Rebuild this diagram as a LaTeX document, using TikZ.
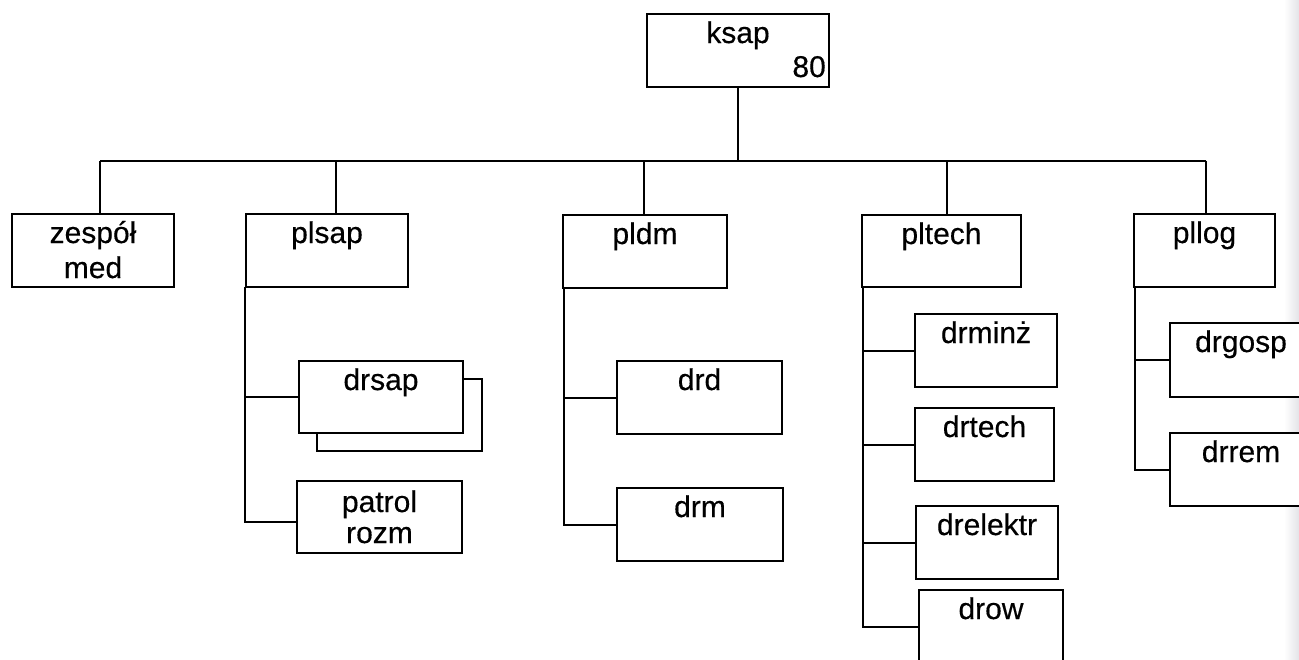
\documentclass[tikz,border=0pt]{standalone}
\usepackage{fontspec}
\setmainfont[FakeBold=0.4]{Liberation Sans}
\begin{document}
\begin{tikzpicture}[x=1pt,y=-1pt,
  box/.style={draw=black, line width=2pt, rectangle, inner sep=0pt, outer sep=0pt, anchor=north west, fill=white},
  lbl/.style={anchor=base, inner sep=0pt, align=center, text=black, font=\fontsize{30}{35}\selectfont},
  conn/.style={draw=black, line width=2pt}]
\useasboundingbox (0,0) rectangle (1299,659);
\fill[white] (0,0) rectangle (1299,659);
\shade[left color=white, right color=blue!8!gray!20] (1284,0) rectangle (1299,659);

% top
\node[box, minimum width=182pt, minimum height=73pt] (ksap) at (647,14) {};
\node[lbl] at ([yshift=-29pt]ksap.north) {ksap};
\node[lbl, anchor=base east] at ([xshift=-3pt,yshift=-63pt]ksap.north east) {80};

% level 1
\node[box, minimum width=162pt, minimum height=73pt] (zesp) at (12,214) {};
\node[lbl, font=\fontsize{30}{35}\selectfont] at ([yshift=-64pt]zesp.north) {zespół\\med};
\node[box, minimum width=162pt, minimum height=73pt] (plsap) at (246,214) {};
\node[lbl] at ([yshift=-29pt]plsap.north) {plsap};
\node[box, minimum width=164pt, minimum height=73pt] (pldm) at (563,215) {};
\node[lbl] at ([yshift=-29pt]pldm.north) {pldm};
\node[box, minimum width=159pt, minimum height=72pt] (pltech) at (862,215) {};
\node[lbl] at ([yshift=-29pt]pltech.north) {pltech};
\node[box, minimum width=141pt, minimum height=73pt] (pllog) at (1134,214) {};
\node[lbl] at ([yshift=-29pt]pllog.north) {pllog};

% bus
\coordinate (hub) at (ksap.south |- 0,160.5);
\coordinate (b1) at (100,160.5);
\coordinate (b2) at (336,160.5);
\coordinate (b3) at (644,160.5);
\coordinate (b4) at (947,160.5);
\coordinate (b5) at (1206,160.5);
\draw[conn] (ksap.south) -- (hub);
\draw[conn] (b1) -- (b5);
\draw[conn] (b1) -- (b1 |- zesp.north);
\draw[conn] (b2) -- (b2 |- plsap.north);
\draw[conn] (b3) -- (b3 |- pldm.north);
\draw[conn] (b4) -- (b4 |- pltech.north);
\draw[conn] (b5) -- (b5 |- pllog.north);

% plsap branch
\node[box, minimum width=165pt, minimum height=72pt] (drsapsh) at (317,379) {};
\node[box, minimum width=164pt, minimum height=72pt] (drsap) at (299,361) {};
\node[lbl] at ([yshift=-29pt]drsap.north) {drsap};
\node[box, minimum width=165pt, minimum height=72pt] (patrol) at (297,481) {};
\node[lbl, font=\fontsize{30}{31}\selectfont] at ([yshift=-62pt]patrol.north) {patrol\\rozm};
\coordinate (tp) at ([xshift=-0.8pt]plsap.south west);
\draw[conn] (tp) |- (drsap.west);
\draw[conn] (tp) |- ([yshift=-5pt]patrol.west);

% pldm branch
\node[box, minimum width=165pt, minimum height=73pt] (drd) at (617,361) {};
\node[lbl] at ([yshift=-29pt]drd.north) {drd};
\node[box, minimum width=166pt, minimum height=73pt] (drm) at (617,488) {};
\node[lbl] at ([yshift=-29pt]drm.north) {drm};
\coordinate (td) at ([xshift=0.5pt]pldm.south west);
\draw[conn] (td) |- (drd.west);
\draw[conn] (td) |- (drm.west);

% pltech branch
\node[box, minimum width=142pt, minimum height=73pt] (drminz) at (915,314) {};
\node[lbl] at ([yshift=-29pt]drminz.north) {drminż};
\node[box, minimum width=139pt, minimum height=73pt] (drtech) at (915,408) {};
\node[lbl] at ([yshift=-29pt]drtech.north) {drtech};
\node[box, minimum width=142pt, minimum height=73pt] (drelektr) at (916,506) {};
\node[lbl] at ([yshift=-29pt]drelektr.north) {drelektr};
\node[box, minimum width=144pt, minimum height=74pt] (drow) at (919,590) {};
\node[lbl] at ([yshift=-29pt]drow.north) {drow};
\coordinate (tt) at ([xshift=0.8pt]pltech.south west);
\draw[conn] (tt) |- (drminz.west);
\draw[conn] (tt) |- (drtech.west);
\draw[conn] (tt) |- (drelektr.west);
\draw[conn] (tt) |- (drow.west);

% pllog branch
\node[box, minimum width=142pt, minimum height=74pt] (drgosp) at (1170,323) {};
\node[lbl] at ([yshift=-29pt]drgosp.north) {drgosp};
\node[box, minimum width=142pt, minimum height=73pt] (drrem) at (1170,433) {};
\node[lbl] at ([yshift=-29pt]drrem.north) {drrem};
\coordinate (tl) at ([xshift=0.8pt]pllog.south west);
\draw[conn] (tl) |- (drgosp.west);
\draw[conn] (tl) |- (drrem.west);
\end{tikzpicture}
\end{document}
